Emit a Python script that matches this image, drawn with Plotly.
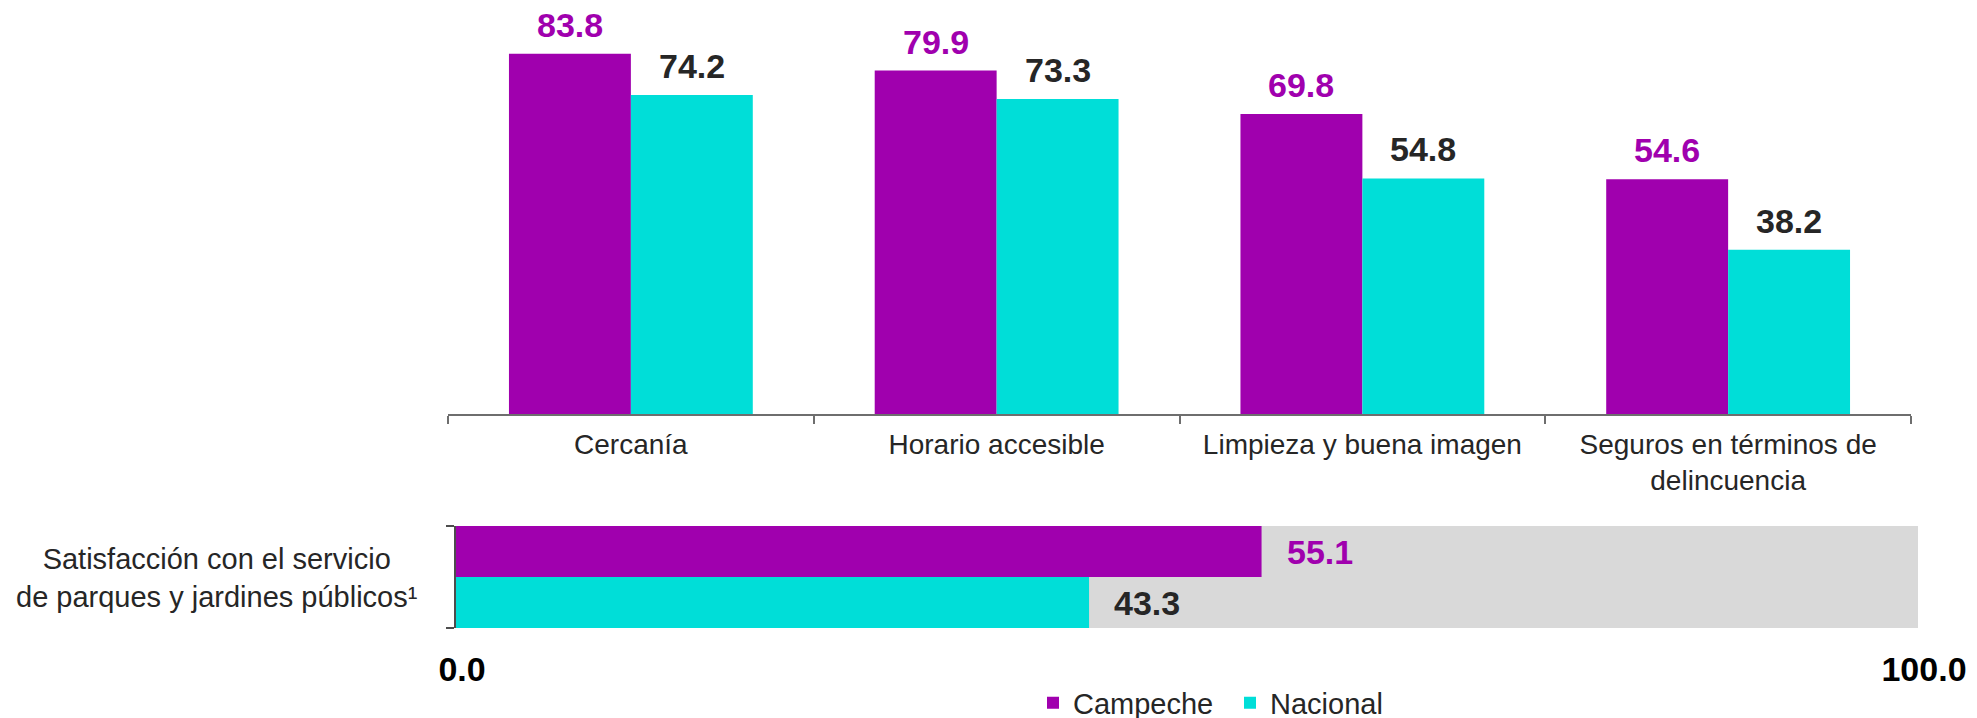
import plotly.graph_objects as go

# data
categories = ["Cercanía", "Horario accesible", "Limpieza y buena imagen",
              "Seguros en términos de<br>delincuencia"]
campeche = [83.8, 79.9, 69.8, 54.6]
nacional = [74.2, 73.3, 54.8, 38.2]

sat_label = "Satisfacción con el servicio<br>de parques y jardines públicos¹"
sat_campeche = 55.1
sat_nacional = 43.3
sat_max = 100.0
x_ticks = [0, 100]
x_ticktext = ["0.0", "100.0"]

PURPLE = "#A000AE"
CYAN = "#00DED8"
DARK = "#262626"
GREY_BG = "#D9D9D9"
FONT = "Liberation Sans, Arial, sans-serif"

# the page body has an 8px margin, so the figure is a bit smaller than the window
PAGE_OFF = 8
W, H = 1977 - PAGE_OFF, 718 - PAGE_OFF


def px_x(p):
    # window pixel -> paper fraction
    return (p - PAGE_OFF) / W


def px_y(p):
    return 1 - (p - PAGE_OFF) / H


fig = go.Figure()

# top grouped bars
fig.add_trace(go.Bar(x=categories, y=campeche, name="Campeche",
                     marker=dict(color=PURPLE, line=dict(width=0)),
                     xaxis="x", yaxis="y", hoverinfo="skip"))
fig.add_trace(go.Bar(x=categories, y=nacional, name="Nacional",
                     marker=dict(color=CYAN, line=dict(width=0)),
                     xaxis="x", yaxis="y", hoverinfo="skip"))

# bottom horizontal bars (grey 100% background behind both)
fig.add_trace(go.Bar(x=[sat_max], y=[0.5], width=[2], orientation="h",
                     marker=dict(color=GREY_BG, line=dict(width=0)),
                     xaxis="x2", yaxis="y2", showlegend=False, hoverinfo="skip",
                     offsetgroup="sat"))
fig.add_trace(go.Bar(x=[sat_campeche], y=[1], width=[1], orientation="h",
                     marker=dict(color=PURPLE, line=dict(width=0)),
                     xaxis="x2", yaxis="y2", showlegend=False, hoverinfo="skip",
                     offsetgroup="sat"))
fig.add_trace(go.Bar(x=[sat_nacional], y=[0], width=[1], orientation="h",
                     marker=dict(color=CYAN, line=dict(width=0)),
                     xaxis="x2", yaxis="y2", showlegend=False, hoverinfo="skip",
                     offsetgroup="sat"))

annotations = []
# value labels above top bars
for cat, v in zip(categories, campeche):
    annotations.append(dict(x=cat, y=v, xref="x", yref="y", text=f"<b>{v:.1f}</b>",
                            showarrow=False, xshift=-61, yshift=29, yanchor="middle",
                            font=dict(size=34, color=PURPLE, family=FONT)))
for cat, v in zip(categories, nacional):
    annotations.append(dict(x=cat, y=v, xref="x", yref="y", text=f"<b>{v:.1f}</b>",
                            showarrow=False, xshift=61, yshift=29, yanchor="middle",
                            font=dict(size=34, color=DARK, family=FONT)))

# value labels for bottom bars
annotations.append(dict(x=sat_campeche, y=1, xref="x2", yref="y2",
                        text=f"<b>{sat_campeche:.1f}</b>", showarrow=False,
                        xanchor="left", xshift=23, yanchor="middle",
                        font=dict(size=34, color=PURPLE, family=FONT)))
annotations.append(dict(x=sat_nacional, y=0, xref="x2", yref="y2",
                        text=f"<b>{sat_nacional:.1f}</b>", showarrow=False,
                        xanchor="left", xshift=23, yanchor="middle",
                        font=dict(size=34, color=DARK, family=FONT)))

# category label for bottom bars
annotations.append(dict(x=px_x(217), y=px_y(578), xref="paper", yref="paper",
                        text=sat_label, showarrow=False, align="center",
                        xanchor="center", yanchor="middle",
                        font=dict(size=29, color=DARK, family=FONT)))

fig.update_layout(
    width=W, height=H,
    margin=dict(l=0, r=0, t=0, b=0, autoexpand=False),
    paper_bgcolor="white", plot_bgcolor="white",
    font=dict(family=FONT, color=DARK),
    barmode="group", bargap=1 / 3, bargroupgap=0,
    showlegend=True,
    legend=dict(orientation="h", x=px_x(1230), y=px_y(703),
                xanchor="center", yanchor="middle", entrywidth=152,
                font=dict(size=29, color=DARK, family=FONT),
                bgcolor="rgba(0,0,0,0)", traceorder="normal"),
    xaxis=dict(domain=[px_x(448), px_x(1911)], anchor="y", automargin=False,
               showline=True, linecolor="#6E6E6E", linewidth=2,
               ticks="outside", tickson="boundaries", ticklen=8,
               tickcolor="#6E6E6E", tickwidth=2, ticklabelstandoff=4,
               tickfont=dict(size=28, color=DARK, family=FONT),
               showgrid=False, zeroline=False, fixedrange=True),
    yaxis=dict(domain=[px_y(414), px_y(10)], anchor="x", range=[0, 94],
               visible=False, showgrid=False, fixedrange=True, automargin=False),
    xaxis2=dict(domain=[px_x(456), px_x(1918)], anchor="y2", range=[0, 100],
                automargin=False,
                tickvals=x_ticks, ticktext=[f"<b>{t}</b>" for t in x_ticktext],
                tickfont=dict(size=34, color="black", family=FONT),
                ticks="", showline=False, showgrid=False, zeroline=False,
                ticklabelstandoff=18, ticklabelshift=6, fixedrange=True),
    yaxis2=dict(domain=[px_y(628), px_y(526)], anchor="x2", range=[-0.5, 1.5],
                automargin=False,
                showline=True, linecolor="#4D4D4D", linewidth=2,
                ticks="outside", tickvals=[-0.5, 1.5], ticklen=8,
                tickcolor="#4D4D4D", tickwidth=2, showticklabels=False,
                showgrid=False, zeroline=False, fixedrange=True),
    annotations=annotations,
)

fig.write_html("out.html")
